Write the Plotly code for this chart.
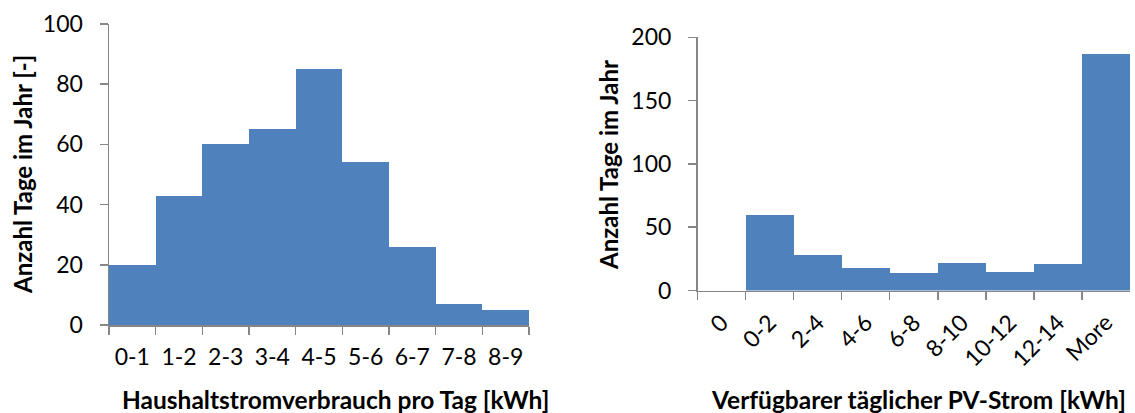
import plotly.graph_objects as go

# Left chart data
cons_labels = ["0-1", "1-2", "2-3", "3-4", "4-5", "5-6", "6-7", "7-8", "8-9"]
cons_days = [20, 43, 60, 65, 85, 54, 26, 7, 5]

# Right chart data
pv_labels = ["0", "0-2", "2-4", "4-6", "6-8", "8-10", "10-12", "12-14", "More"]
pv_days = [0, 60, 28, 18, 14, 22, 15, 21, 187]

W, H = 1135, 413
BAR = "#4F81BD"
AX = "#868686"
FONT = "Lato"
TICK_SIZE = 23
TITLE_SIZE = 24.5

fig = go.Figure()
fig.add_trace(go.Bar(x=cons_labels, y=cons_days, marker=dict(color=BAR, line=dict(width=0)),
                     xaxis="x", yaxis="y", showlegend=False))
fig.add_trace(go.Bar(x=pv_labels, y=pv_days, marker=dict(color=BAR, line=dict(width=0)),
                     xaxis="x2", yaxis="y2", showlegend=False))

def px_x(p):
    return p / W

def px_y(p):
    return (H - p) / H

common_x = dict(type="category", showline=True, linecolor=AX, linewidth=1.5,
                ticks="outside", tickson="boundaries", ticklen=8, tickcolor=AX,
                tickwidth=1.5, showgrid=False, zeroline=False, automargin=False,
                tickfont=dict(family=FONT, size=TICK_SIZE, color="#000"),
                range=[-0.5, 8.5], fixedrange=True)
common_y = dict(showline=True, linecolor=AX, linewidth=1.5, ticks="outside",
                ticklen=8, tickcolor=AX, tickwidth=1.5, showgrid=False,
                zeroline=False, automargin=False,
                tickfont=dict(family=FONT, size=TICK_SIZE, color="#000"),
                fixedrange=True)

fig.update_layout(
    width=W, height=H,
    margin=dict(l=0, r=0, t=0, b=0),
    paper_bgcolor="white", plot_bgcolor="white",
    bargap=0,
    xaxis=dict(common_x, domain=[px_x(109), px_x(529)], anchor="y",
               ticklabelstandoff=11),
    yaxis=dict(common_y, domain=[px_y(325), px_y(24)], anchor="x",
               range=[0, 100], dtick=20, ticklabelstandoff=12),
    xaxis2=dict(common_x, domain=[px_x(697.5), px_x(1130)], anchor="y2",
                tickangle=-45, ticklabelstandoff=8),
    yaxis2=dict(common_y, domain=[px_y(290.5), px_y(37.3)], anchor="x2",
                range=[0, 200], dtick=50, ticklabelstandoff=12),
    annotations=[
        dict(text="<b>Haushaltstromverbrauch pro Tag [kWh]</b>", x=px_x(335), y=px_y(399),
             xref="paper", yref="paper", showarrow=False,
             font=dict(family=FONT, size=TITLE_SIZE, color="#000"), xanchor="center", yanchor="middle"),
        dict(text="<b>Anzahl Tage im Jahr [-]</b>", x=px_x(22), y=px_y(175),
             xref="paper", yref="paper", showarrow=False, textangle=-90,
             font=dict(family=FONT, size=24, color="#000"), xanchor="center", yanchor="middle"),
        dict(text="<b>Verfügbarer täglicher PV-Strom [kWh]</b>", x=px_x(918), y=px_y(399),
             xref="paper", yref="paper", showarrow=False,
             font=dict(family=FONT, size=TITLE_SIZE, color="#000"), xanchor="center", yanchor="middle"),
        dict(text="<b>Anzahl Tage im Jahr</b>", x=px_x(609), y=px_y(165),
             xref="paper", yref="paper", showarrow=False, textangle=-90,
             font=dict(family=FONT, size=24, color="#000"), xanchor="center", yanchor="middle"),
    ],
)

fig.write_html("out.html", config={"displayModeBar": False, "staticPlot": True},
               post_script="document.body.style.margin='0px';document.body.style.overflow='hidden';")
